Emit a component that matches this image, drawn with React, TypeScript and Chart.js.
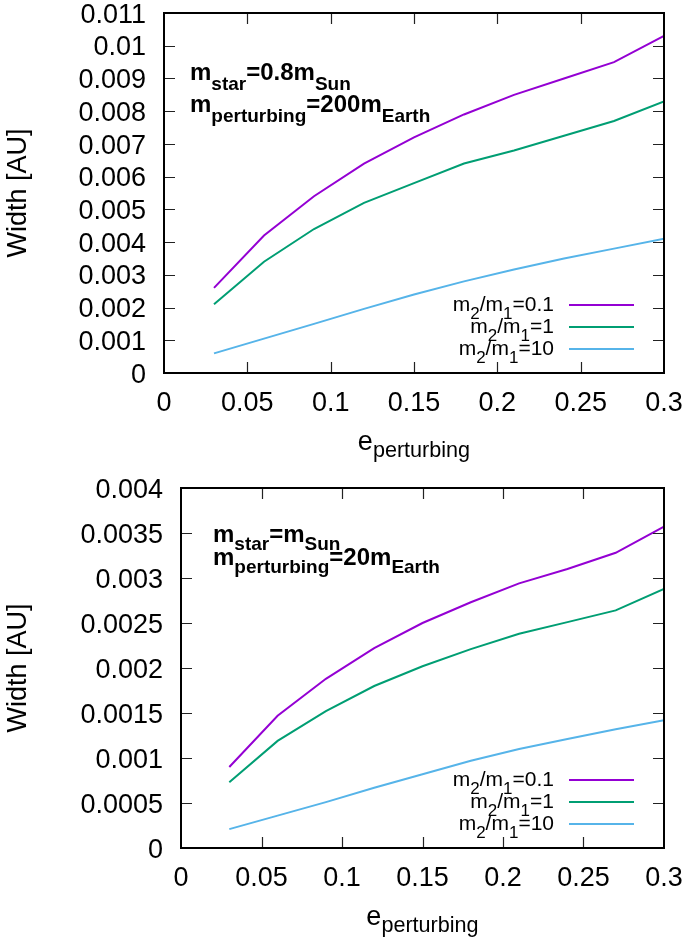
import React, { useEffect, useRef } from "react";
import { Chart, registerables } from "chart.js";

Chart.register(...registerables);

// ---------- data ----------
const eValues = [0.03, 0.06, 0.09, 0.12, 0.15, 0.18, 0.21, 0.24, 0.27, 0.3];
const seriesLabels = ["0.1", "1", "10"];
const seriesColors = ["#9400d3", "#009e73", "#56b4e9"];

// top panel: m_star = 0.8 m_Sun, m_perturbing = 200 m_Earth
const topRatio01 = [0.0026, 0.0042, 0.0054, 0.0064, 0.0072, 0.0079, 0.0085, 0.009, 0.0095, 0.0103];
const topRatio1 = [0.0021, 0.0034, 0.0044, 0.0052, 0.0058, 0.0064, 0.0068, 0.00725, 0.0077, 0.0083];
const topRatio10 = [0.0006, 0.00105, 0.0015, 0.00196, 0.0024, 0.0028, 0.00316, 0.0035, 0.0038, 0.0041];

// bottom panel: m_star = m_Sun, m_perturbing = 20 m_Earth
const botRatio01 = [0.0009, 0.00147, 0.00188, 0.00222, 0.0025, 0.00273, 0.00294, 0.0031, 0.00328, 0.00357];
const botRatio1 = [0.00073, 0.00119, 0.00152, 0.0018, 0.00202, 0.00221, 0.00238, 0.00251, 0.00264, 0.00288];
const botRatio10 = [0.00021, 0.00036, 0.00051, 0.00067, 0.00082, 0.00097, 0.0011, 0.00121, 0.00132, 0.00142];

const xMin = 0;
const xMax = 0.3;
const xStep = 0.05;
const topYMax = 0.011;
const topYStep = 0.001;
const botYMax = 0.004;
const botYStep = 0.0005;

const xTitle = { main: "e", sub: "perturbing" };
const yTitle = "Width [AU]";

type Part = { t: string; sub?: boolean };

const topNote: Part[][] = [
  [{ t: "m" }, { t: "star", sub: true }, { t: "=0.8m" }, { t: "Sun", sub: true }],
  [{ t: "m" }, { t: "perturbing", sub: true }, { t: "=200m" }, { t: "Earth", sub: true }],
];
const botNote: Part[][] = [
  [{ t: "m" }, { t: "star", sub: true }, { t: "=m" }, { t: "Sun", sub: true }],
  [{ t: "m" }, { t: "perturbing", sub: true }, { t: "=20m" }, { t: "Earth", sub: true }],
];

// ---------- drawing helpers ----------
const FAM = "'Liberation Sans', Arial, Helvetica, sans-serif";

function drawRich(
  ctx: CanvasRenderingContext2D,
  parts: Part[],
  x: number,
  y: number,
  size: number,
  subSize: number,
  subDy: number,
  bold: boolean,
  align: "left" | "right" | "center"
) {
  const fontFor = (sub?: boolean) => `${bold ? "bold " : ""}${sub ? subSize : size}px ${FAM}`;
  let w = 0;
  for (const p of parts) {
    ctx.font = fontFor(p.sub);
    w += ctx.measureText(p.t).width;
  }
  let cx = align === "left" ? x : align === "right" ? x - w : x - w / 2;
  ctx.textAlign = "left";
  ctx.textBaseline = "alphabetic";
  for (const p of parts) {
    ctx.font = fontFor(p.sub);
    ctx.fillText(p.t, cx, p.sub ? y + subDy : y);
    cx += ctx.measureText(p.t).width;
  }
}

const fmt = (v: number) => parseFloat(v.toFixed(6)).toString();

type Panel = {
  series: number[][];
  yMax: number;
  yStep: number;
  note: Part[][];
  noteX: number;
  noteY: number[];
  noteSubDy: number;
  padding: { left: number; right: number; top: number; bottom: number };
};

function makePlugin(panel: Panel) {
  return {
    id: "gnuplotDecor",
    afterDraw(chart: any) {
      const ctx: CanvasRenderingContext2D = chart.ctx;
      const { left, right, top, bottom } = chart.chartArea;
      const xs = chart.scales.x;
      const ys = chart.scales.y;
      ctx.save();
      ctx.fillStyle = "#000";

      // inside ticks (mirrored)
      ctx.strokeStyle = "#222";
      ctx.lineWidth = 1.2;
      const tl = 11;
      ctx.beginPath();
      for (const t of xs.ticks) {
        const px = Math.round(xs.getPixelForValue(t.value)) + 0.5;
        if (px <= left + 2 || px >= right - 2) continue;
        ctx.moveTo(px, bottom);
        ctx.lineTo(px, bottom - tl);
        ctx.moveTo(px, top);
        ctx.lineTo(px, top + tl);
      }
      for (const t of ys.ticks) {
        const py = Math.round(ys.getPixelForValue(t.value)) + 0.5;
        if (py <= top + 2 || py >= bottom - 2) continue;
        ctx.moveTo(left, py);
        ctx.lineTo(left + tl, py);
        ctx.moveTo(right, py);
        ctx.lineTo(right - tl, py);
      }
      ctx.stroke();

      // border
      ctx.strokeStyle = "#000";
      ctx.lineWidth = 2;
      ctx.strokeRect(left, top, right - left, bottom - top);

      // tick labels
      ctx.font = `27px ${FAM}`;
      ctx.textBaseline = "alphabetic";
      ctx.textAlign = "center";
      for (const t of xs.ticks) {
        const px = xs.getPixelForValue(t.value);
        ctx.fillText(fmt(t.value), px, bottom + 38);
      }
      ctx.textAlign = "right";
      for (const t of ys.ticks) {
        const py = ys.getPixelForValue(t.value);
        ctx.fillText(fmt(t.value), left - 18, py + 9.6);
      }

      // axis titles
      drawRich(ctx, [{ t: xTitle.main }, { t: xTitle.sub, sub: true }], (left + right) / 2, bottom + 77, 27, 21.6, 7, false, "center");
      ctx.save();
      ctx.translate(19, (top + bottom) / 2);
      ctx.rotate(-Math.PI / 2);
      ctx.font = `27px ${FAM}`;
      ctx.textAlign = "center";
      ctx.textBaseline = "middle";
      ctx.fillText(yTitle, 0, 0);
      ctx.restore();

      // legend
      const lx1 = 569;
      const lx2 = 634;
      const textRight = 554;
      chart.data.datasets.forEach((ds: any, i: number) => {
        const ly = bottom - 68 + i * 22;
        drawRich(
          ctx,
          [{ t: "m" }, { t: "2", sub: true }, { t: "/m" }, { t: "1", sub: true }, { t: "=" + seriesLabels[i] }],
          textRight,
          ly + 6,
          21,
          17,
          8,
          false,
          "right"
        );
        ctx.strokeStyle = ds.borderColor;
        ctx.lineWidth = 2;
        ctx.beginPath();
        ctx.moveTo(lx1, ly);
        ctx.lineTo(lx2, ly);
        ctx.stroke();
      });

      // annotation
      panel.note.forEach((line, i) => {
        drawRich(ctx, line, panel.noteX, panel.noteY[i], 24, 19, panel.noteSubDy, true, "left");
      });

      ctx.restore();
    },
  };
}

function PanelChart({ panel, height }: { panel: Panel; height: number }) {
  const ref = useRef<HTMLCanvasElement | null>(null);
  useEffect(() => {
    if (!ref.current) return;
    const chart = new Chart(ref.current, {
      type: "line",
      data: {
        datasets: panel.series.map((vals, i) => ({
          label: "m2/m1=" + seriesLabels[i],
          data: eValues.map((e, j) => ({ x: e, y: vals[j] })),
          borderColor: seriesColors[i],
          backgroundColor: seriesColors[i],
          borderWidth: 2,
          pointRadius: 0,
          tension: 0,
          fill: false,
        })),
      },
      options: {
        animation: false,
        responsive: false,
        devicePixelRatio: 1,
        layout: { padding: panel.padding },
        plugins: { legend: { display: false }, tooltip: { enabled: false } },
        scales: {
          x: {
            type: "linear",
            min: xMin,
            max: xMax,
            ticks: { display: false, stepSize: xStep },
            grid: { display: false, drawTicks: false },
            border: { display: false },
          },
          y: {
            type: "linear",
            min: 0,
            max: panel.yMax,
            ticks: { display: false, stepSize: panel.yStep },
            grid: { display: false, drawTicks: false },
            border: { display: false },
          },
        },
      },
      plugins: [makePlugin(panel)],
    } as any);
    return () => chart.destroy();
  }, [panel]);
  return <canvas ref={ref} width={688} height={height} style={{ display: "block" }} />;
}

const topPanel: Panel = {
  series: [topRatio01, topRatio1, topRatio10],
  yMax: topYMax,
  yStep: topYStep,
  note: topNote,
  noteX: 190,
  noteY: [80, 112],
  noteSubDy: 10,
  padding: { left: 164, right: 24, top: 13, bottom: 99 },
};

const botPanel: Panel = {
  series: [botRatio01, botRatio1, botRatio10],
  yMax: botYMax,
  yStep: botYStep,
  note: botNote,
  noteX: 213,
  noteY: [70, 93],
  noteSubDy: 8,
  padding: { left: 181, right: 24, top: 16, bottom: 96 },
};

export default function App() {
  return (
    <div style={{ position: "absolute", left: 0, top: 0, width: 688, height: 944, background: "#fff" }}>
      <PanelChart panel={topPanel} height={472} />
      <PanelChart panel={botPanel} height={472} />
    </div>
  );
}
